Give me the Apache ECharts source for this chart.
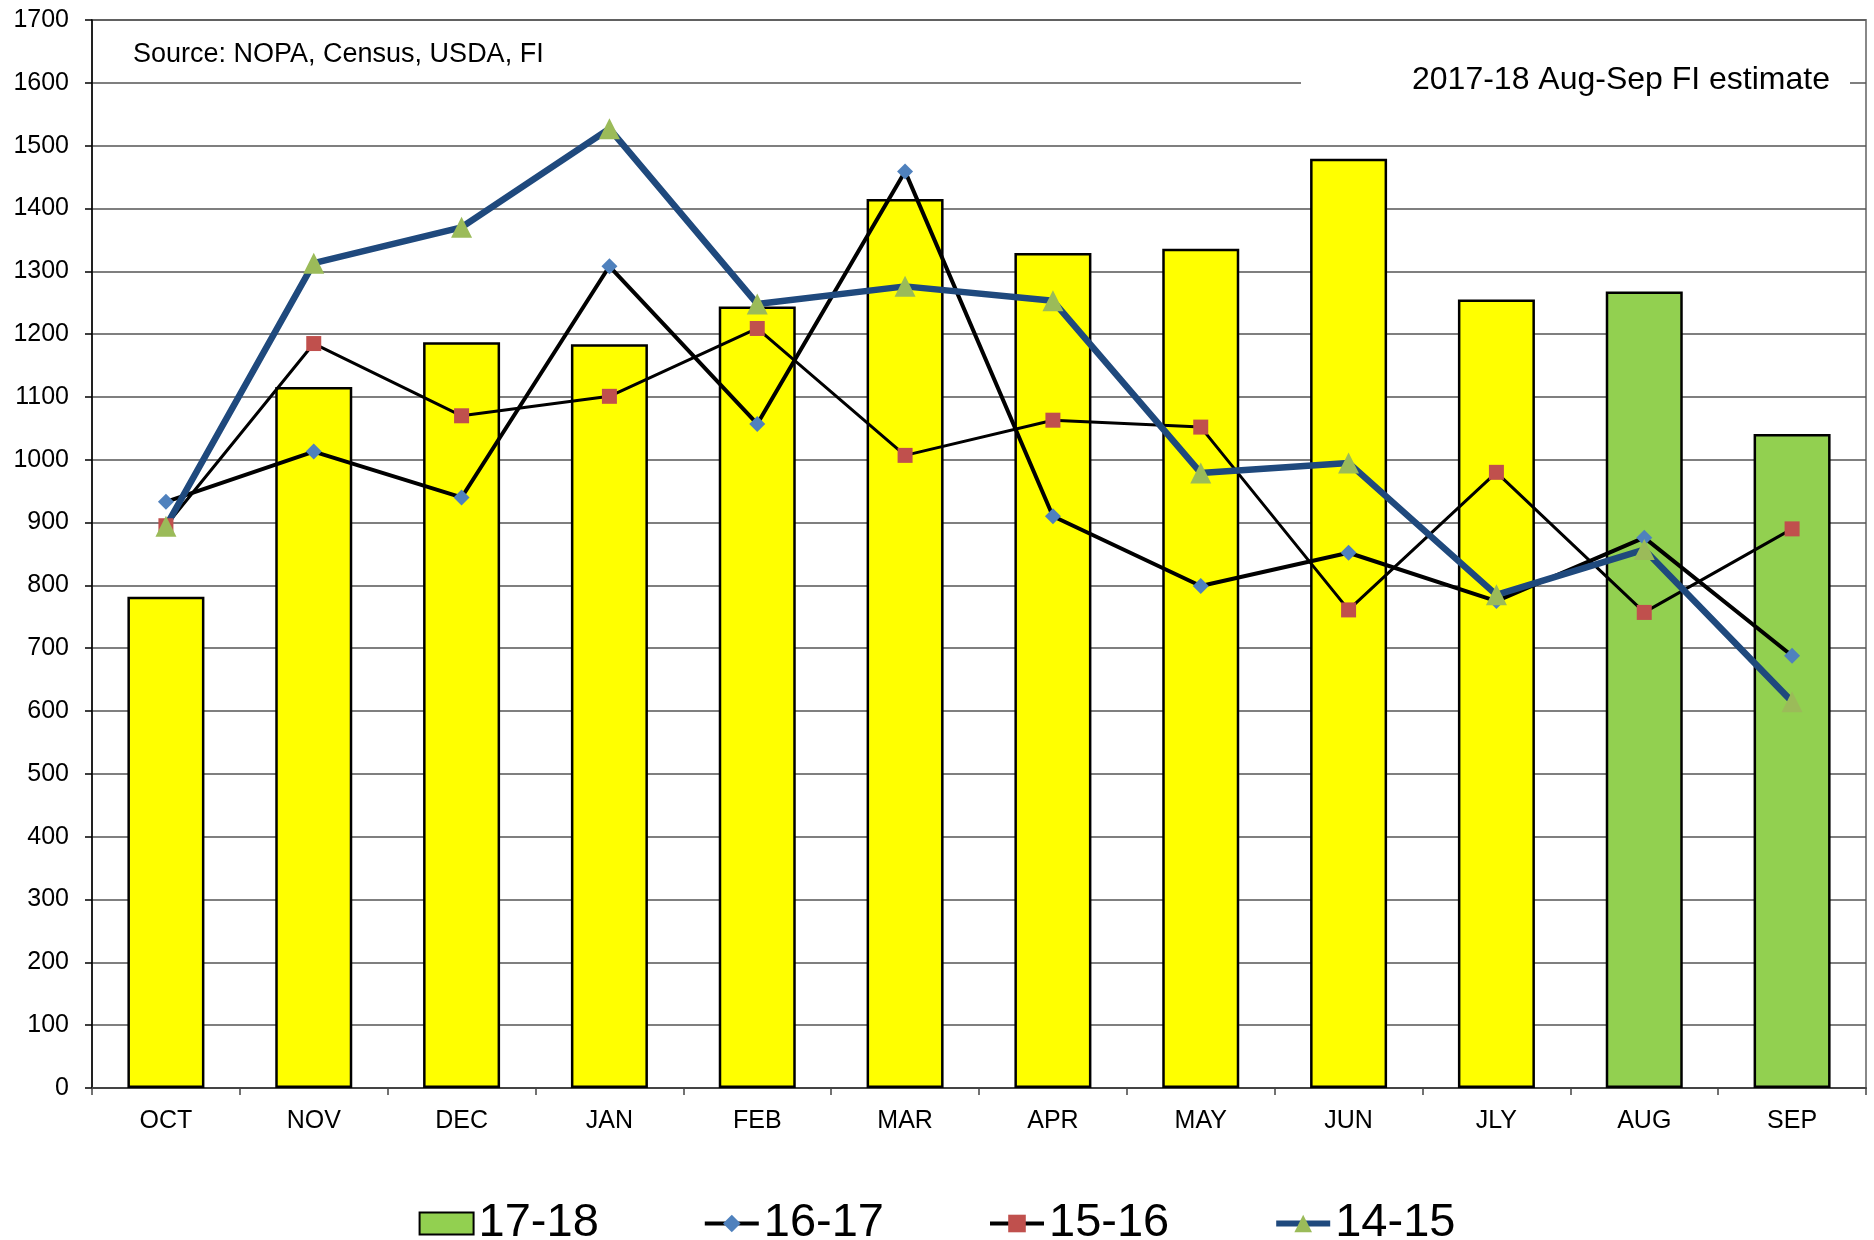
<!DOCTYPE html>
<html>
<head>
<meta charset="utf-8">
<script src="https://cdn.jsdelivr.net/npm/echarts@6/dist/echarts.min.js"></script>
<style>
  html, body { margin: 0; padding: 0; background: #fff; }
  #chart { width: 1874px; height: 1240px; }
</style>
</head>
<body>
<div id="chart"></div>
<script>
// months of the crush year
const months = ["OCT", "NOV", "DEC", "JAN", "FEB", "MAR", "APR", "MAY", "JUN", "JLY", "AUG", "SEP"];
// months that are FI estimates (green bars)
const estimateMonths = ["AUG", "SEP"];

const crush1718 = [782, 1116, 1187, 1184, 1244, 1415, 1329, 1336, 1479, 1255, 1268, 1041];
const crush1617 = [933, 1013, 940, 1308, 1057, 1459, 910, 799, 852, 775, 876, 688];
const crush1516 = [895, 1185, 1070, 1101, 1209, 1007, 1063, 1052, 761, 980, 757, 890];
const crush1415 = [894, 1313, 1370, 1527, 1248, 1276, 1253, 979, 995, 785, 857, 615];

const yTicks = { min: 0, max: 1700, step: 100 };

const font = "Liberation Sans, Arial, sans-serif";

let mchart = echarts.init(document.querySelector("#chart"));

// bars: yellow for actuals, green for estimates
let barData = crush1718.map((v, i) => {
  if (estimateMonths.indexOf(months[i]) >= 0) return v;
  return { value: v, itemStyle: { color: "#FFFF00" } };
});

let option = {
  backgroundColor: "#fff",
  animation: false,
  textStyle: { fontFamily: font, color: "#000" },
  grid: {
    left: 92,
    right: 8,
    top: 20,
    bottom: 152,
    show: true,
    borderColor: "#888",
    borderWidth: 2,
  },
  legend: {
    top: 1195,
    left: "center",
    itemWidth: 54,
    itemHeight: 22,
    itemGap: 104,
    textStyle: { fontSize: 47, color: "#000", fontFamily: font },
    data: [
      { name: "17-18", icon: "rect" },
      { name: "16-17", lineStyle: { width: 4 } },
      { name: "15-16", lineStyle: { width: 4 } },
      { name: "14-15", lineStyle: { width: 6 } },
    ],
  },
  graphic: [
    {
      type: "text",
      left: 133,
      top: 41,
      z: 100,
      style: { text: "Source: NOPA, Census, USDA, FI", font: "27px " + font, fill: "#000" },
    },
    {
      type: "rect",
      shape: { x: 1301, y: 50, width: 549, height: 60 },
      z: 99,
      style: { fill: "#fff" },
    },
    {
      type: "text",
      right: 44,
      top: 64,
      z: 100,
      style: { text: "2017-18 Aug-Sep FI estimate", font: "32px " + font, fill: "#000" },
    },
  ],
  xAxis: {
    type: "category",
    data: months,
    axisLine: { lineStyle: { color: "#444", width: 2 } },
    axisTick: { show: true, interval: 0, length: 7, lineStyle: { color: "#444", width: 1.5 } },
    axisLabel: { fontSize: 25, color: "#000", margin: 21, fontFamily: font },
  },
  yAxis: {
    type: "value",
    min: yTicks.min,
    max: yTicks.max,
    interval: yTicks.step,
    axisLine: { show: true, lineStyle: { color: "#000", width: 1.5 } },
    axisTick: { show: true, length: 7, lineStyle: { color: "#000", width: 1.5 } },
    axisLabel: {
      fontSize: 25,
      color: "#000",
      margin: 23,
      fontFamily: font,
      formatter: (v) => String(v),
    },
    splitLine: { lineStyle: { color: "#555", width: 1.5 } },
  },
  series: [
    {
      name: "17-18",
      type: "bar",
      data: barData,
      barWidth: 77,
      itemStyle: { color: "#92D050", borderColor: "#000", borderWidth: 2.5 },
    },
    {
      name: "16-17",
      type: "line",
      data: crush1617,
      symbol: "diamond",
      symbolSize: 16,
      itemStyle: { color: "#4F81BD" },
      lineStyle: { color: "#000", width: 4 },
    },
    {
      name: "15-16",
      type: "line",
      data: crush1516,
      symbol: "rect",
      symbolSize: 15,
      itemStyle: { color: "#C0504D" },
      lineStyle: { color: "#000", width: 3 },
    },
    {
      name: "14-15",
      type: "line",
      data: crush1415,
      symbol: "triangle",
      symbolSize: 21,
      itemStyle: { color: "#9BBB59" },
      lineStyle: { color: "#1F497D", width: 6.5 },
    },
  ],
};

mchart.setOption(option);
</script>
</body>
</html>
